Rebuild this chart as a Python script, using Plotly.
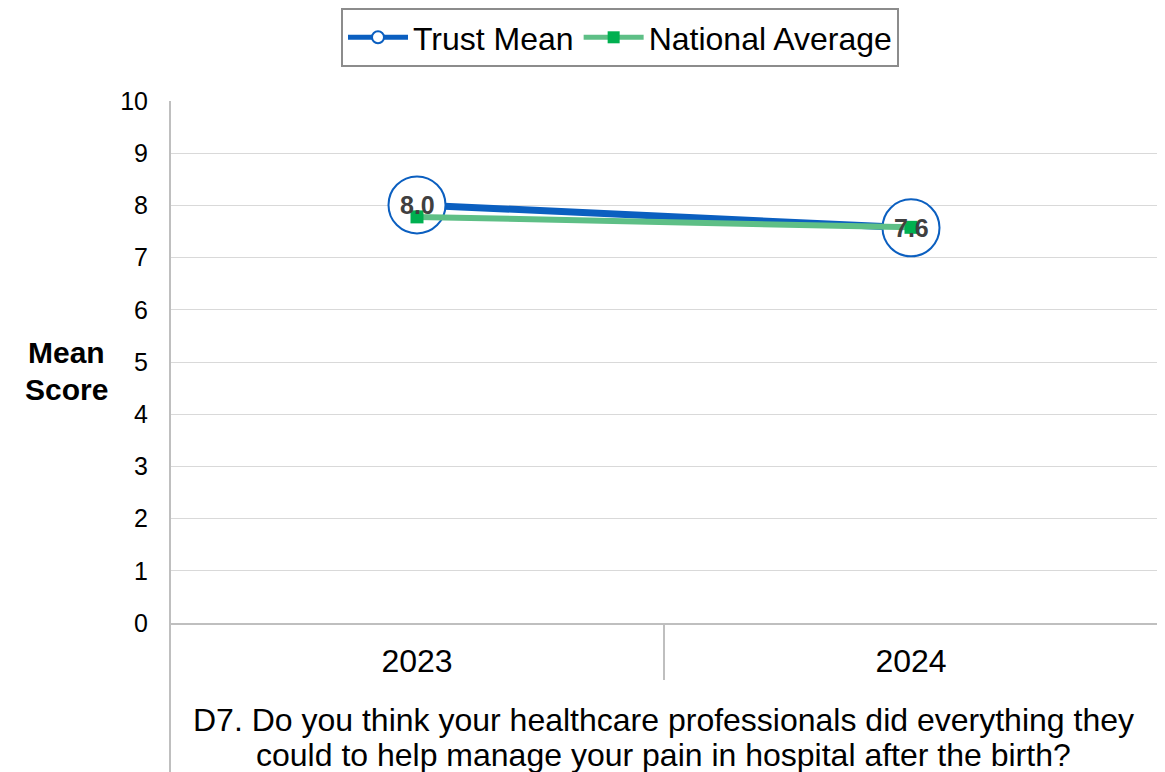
import plotly.graph_objects as go

years = ["2023", "2024"]
trust_mean = [8.01, 7.57]
national_avg = [7.78, 7.58]
y_ticks = [0, 1, 2, 3, 4, 5, 6, 7, 8, 9, 10]
question_lines = ["D7. Do you think your healthcare professionals did everything they",
                  "could to help manage your pain in hospital after the birth?"]

FONT = "Liberation Sans, Arial, sans-serif"
OFF = 8  # page body margin of the browser
W, H = 1165 - OFF, 772 - OFF
# target plot area in window pixels: x 170..1158, y 101..623
ML = 170 - OFF
MT = 101 - OFF
MR = W - (1158 - OFF)
MB = H - (623 - OFF)
plot_w = W - ML - MR
plot_h = H - MT - MB
bottom = -MB / plot_h


def py(pix):
    """window pixel row -> paper y"""
    return (623 - pix) / plot_h


def px(pix):
    """window pixel column -> paper x"""
    return (pix - 170) / plot_w


fig = go.Figure()
fig.add_trace(go.Scatter(
    x=years, y=trust_mean, name="Trust Mean", mode="lines+markers",
    line=dict(color="#0B5FC0", width=7),
    marker=dict(symbol="circle", size=57, color="white", line=dict(color="#0B5FC0", width=2)),
))
fig.add_trace(go.Scatter(
    x=years, y=national_avg, name="National Average", mode="lines+markers",
    line=dict(color="#5EBF86", width=6),
    marker=dict(symbol="square", size=13, color="#00B050"),
))

for i, v in enumerate(trust_mean):
    fig.add_annotation(x=i, y=v, xref="x", yref="y", text=f"<b>{v:.1f}</b>", showarrow=False,
                       font=dict(family=FONT, size=25, color="#404040"))

# y-axis title (horizontal)
for word, ypix in zip(["Mean", "Score"], [352, 389]):
    fig.add_annotation(xref="paper", yref="paper", x=px(66), y=py(ypix),
                       text=f"<b>{word}</b>", showarrow=False,
                       xanchor="center", yanchor="middle",
                       font=dict(family=FONT, size=30, color="black"))

# question text under the categories
for line, ypix in zip(question_lines, [720, 755]):
    fig.add_annotation(xref="paper", yref="paper", x=px(663), y=py(ypix),
                       text=line, showarrow=False, xanchor="center", yanchor="middle",
                       font=dict(family=FONT, size=32, color="black"))

line_col = "#BFBFBF"
fig.add_shape(type="line", xref="paper", yref="paper", x0=0, x1=0, y0=1, y1=bottom,
              line=dict(color=line_col, width=2))
fig.add_shape(type="line", xref="paper", yref="paper", x0=1, x1=1, y0=1, y1=bottom,
              line=dict(color=line_col, width=2))
fig.add_shape(type="line", xref="x", yref="paper", x0=0.5, x1=0.5, y0=0, y1=py(680),
              line=dict(color=line_col, width=2))

fig.update_layout(
    width=W, height=H,
    margin=dict(l=ML, r=MR, t=MT, b=MB, autoexpand=False),
    paper_bgcolor="white", plot_bgcolor="white",
    font=dict(family=FONT, color="black"),
    showlegend=True,
    legend=dict(orientation="h", x=px(620), xanchor="center",
                y=py(8), yanchor="top",
                bordercolor="#8C8C8C", borderwidth=2, bgcolor="white",
                font=dict(family=FONT, size=32, color="black"),
                itemsizing="constant", itemwidth=60, tracegroupgap=0),
    xaxis=dict(type="category", range=[-0.5, 1.5], showgrid=False,
               showline=True, linecolor=line_col, linewidth=2,
               ticks="outside", ticklen=9, tickcolor="rgba(0,0,0,0)",
               tickfont=dict(family=FONT, size=32, color="black"), fixedrange=True),
    yaxis=dict(range=[0, 10], tickvals=y_ticks, showgrid=True, gridcolor="#D9D9D9",
               gridwidth=1, zeroline=False, showline=False,
               ticks="outside", ticklen=16, tickcolor="rgba(0,0,0,0)",
               tickfont=dict(family=FONT, size=25, color="black"), fixedrange=True),
)

fig.write_html("out.html")
